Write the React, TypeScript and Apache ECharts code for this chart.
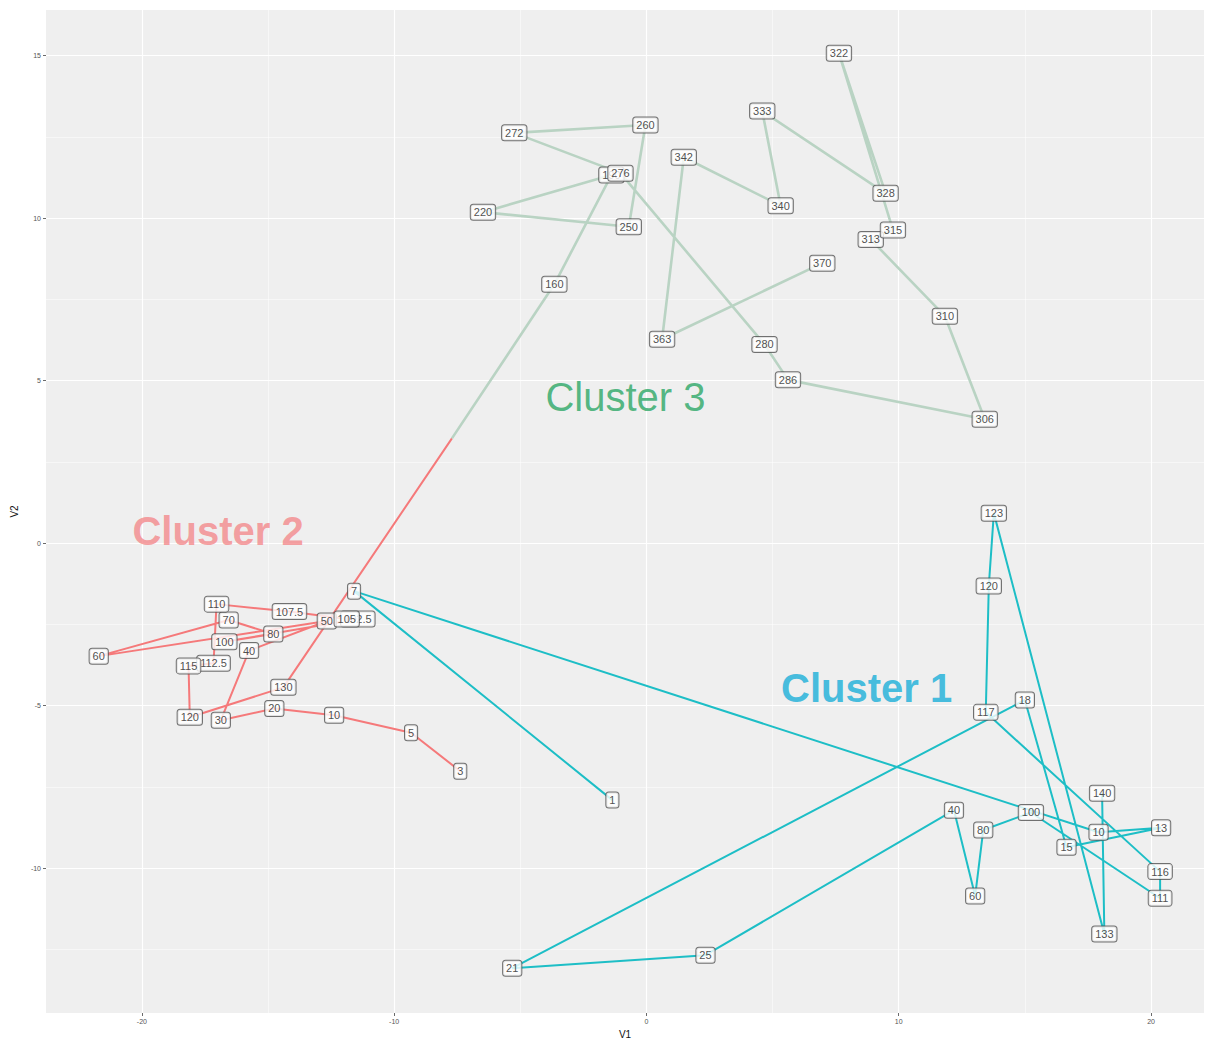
import React, { useEffect, useRef } from 'react';
import * as echarts from 'echarts';

// Axis breaks
const xTicks = [-20, -10, 0, 10, 20];
const xMinorTicks = [-15, -5, 5, 15];
const yTicks = [-10, -5, 0, 5, 10, 15];
const yMinorTicks = [-12.5, -7.5, -2.5, 2.5, 7.5, 12.5];

// Cluster 1 trajectory (labels are time points)
const c1Labels = ['1', '7', '10', '13', '15', '18', '21', '25', '40', '60', '80', '100', '111', '116', '117', '120', '123', '133', '140'];
const c1X = [-1.35, -11.59, 17.92, 20.4, 16.65, 15.0, -5.32, 2.34, 12.19, 13.03, 13.35, 15.24, 20.36, 20.36, 13.45, 13.57, 13.77, 18.15, 18.06];
const c1Y = [-7.91, -1.48, -8.9, -8.76, -9.36, -4.83, -13.08, -12.68, -8.22, -10.86, -8.83, -8.29, -10.93, -10.11, -5.21, -1.32, 0.92, -12.03, -7.7];

// Cluster 2 trajectory
const c2Labels = ['3', '5', '10', '20', '30', '40', '50', '60', '70', '80', '100', '102.5', '105', '107.5', '110', '112.5', '115', '120', '130'];
const c2X = [-7.38, -9.33, -12.38, -14.75, -16.87, -15.75, -12.67, -21.71, -16.56, -14.79, -16.73, -11.44, -11.88, -14.15, -17.04, -17.16, -18.15, -18.1, -14.39];
const c2Y = [-7.02, -5.84, -5.3, -5.09, -5.45, -3.31, -2.4, -3.48, -2.37, -2.8, -3.04, -2.34, -2.34, -2.11, -1.88, -3.7, -3.78, -5.36, -4.44];

// Cluster 3 trajectory (continuation)
const c3Labels = ['160', '190', '220', '250', '260', '272', '276', '280', '286', '306', '310', '313', '315', '322', '328', '333', '340', '342', '363', '370'];
const c3X = [-3.65, -1.39, -6.48, -0.7, -0.04, -5.24, -1.03, 4.68, 5.61, 13.41, 11.83, 8.89, 9.77, 7.63, 9.48, 4.59, 5.32, 1.48, 0.62, 6.97];
const c3Y = [7.96, 11.32, 10.18, 9.73, 12.86, 12.62, 11.38, 6.11, 5.02, 3.81, 6.98, 9.34, 9.63, 15.07, 10.76, 13.29, 10.38, 11.87, 6.27, 8.61];

// Where the path changes colour from cluster 2 to cluster 3
const transitionPoint = [-7.71, 3.22];

// Cluster annotations
const annotLabels = ['Cluster 1', 'Cluster 2', 'Cluster 3'];
const annotX = [8.73, -16.98, -0.83];
const annotY = [-4.46, 0.37, 4.49];
const annotColors = ['#18AED8', '#F4888A', '#2AA765'];
const annotWeights = ['bold', 'bold', 'normal'];

const X_MIN = -23.8;
const X_MAX = 22.1;
const Y_MIN = -14.46;
const Y_MAX = 16.4;

const RED = '#F5797A';
const CYAN = '#1DBEC6';
const GREEN_LINE = '#B9D3C3';
const FONT = 'Liberation Sans, Arial, sans-serif';

const zip = (xs: number[], ys: number[]) => xs.map((x, i) => [x, ys[i]]);

export default function App() {
  const ref = useRef<HTMLDivElement>(null);

  useEffect(() => {
    if (!ref.current) return;
    const chart = echarts.init(ref.current, null, { renderer: 'svg' });

    const labelStyle = {
      show: true,
      position: 'inside',
      formatter: (p: any) => p.name,
      fontSize: 11,
      fontFamily: FONT,
      color: '#222',
      backgroundColor: '#ffffff',
      borderColor: '#505050',
      borderWidth: 1,
      borderRadius: 2.5,
      padding: [2, 3, 1, 3],
      lineHeight: 12,
    };

    const labelSeries = (labels: string[], xs: number[], ys: number[]) => ({
      type: 'scatter',
      symbolSize: 1,
      itemStyle: { color: 'rgba(0,0,0,0)' },
      z: 5,
      data: labels.map((l, i) => ({ name: l, value: [xs[i], ys[i]] })),
      label: labelStyle,
      emphasis: { disabled: true },
      silent: true,
    });

    const axisLabelStyle = { fontSize: 7, color: '#555', fontFamily: FONT };

    const option: any = {
      animation: false,
      backgroundColor: '#ffffff',
      grid: {
        left: 46,
        right: 2,
        top: 10,
        bottom: 26,
        show: true,
        backgroundColor: '#EFEFEF',
        borderWidth: 0,
        containLabel: false,
        outerBoundsMode: 'none',
      },
      xAxis: [
        {
          type: 'value',
          min: X_MIN,
          max: X_MAX,
          name: 'V1',
          nameLocation: 'middle',
          nameGap: 15,
          nameTextStyle: { fontSize: 10, color: '#111', fontFamily: FONT },
          axisLine: { show: false, onZero: false },
          axisTick: { show: true, length: 3, lineStyle: { color: '#444', width: 0.8 }, customValues: xTicks },
          axisLabel: { ...axisLabelStyle, margin: 5, customValues: xTicks },
          splitLine: { show: true, lineStyle: { color: '#ffffff', width: 1.2 } },
        },
        {
          type: 'value',
          min: X_MIN,
          max: X_MAX,
          position: 'top',
          axisLine: { show: false, onZero: false },
          axisTick: { show: false, customValues: xMinorTicks },
          axisLabel: { show: false, customValues: xMinorTicks },
          splitLine: { show: true, lineStyle: { color: '#ffffff', width: 0.5 } },
        },
      ],
      yAxis: [
        {
          type: 'value',
          min: Y_MIN,
          max: Y_MAX,
          name: 'V2',
          nameLocation: 'middle',
          nameGap: 23,
          nameRotate: 90,
          nameTextStyle: { fontSize: 10, color: '#111', fontFamily: FONT },
          axisLine: { show: false, onZero: false },
          axisTick: { show: true, length: 3, lineStyle: { color: '#444', width: 0.8 }, customValues: yTicks },
          axisLabel: { ...axisLabelStyle, margin: 5, customValues: yTicks },
          splitLine: { show: true, lineStyle: { color: '#ffffff', width: 1.2 } },
        },
        {
          type: 'value',
          min: Y_MIN,
          max: Y_MAX,
          position: 'right',
          axisLine: { show: false, onZero: false },
          axisTick: { show: false, customValues: yMinorTicks },
          axisLabel: { show: false, customValues: yMinorTicks },
          splitLine: { show: true, lineStyle: { color: '#ffffff', width: 0.5 } },
        },
      ],
      series: [
        {
          type: 'line',
          data: [...zip(c2X, c2Y), transitionPoint],
          showSymbol: false,
          symbol: 'none',
          lineStyle: { color: RED, width: 2 },
          z: 2,
          silent: true,
        },
        {
          type: 'line',
          data: [transitionPoint, ...zip(c3X, c3Y)],
          showSymbol: false,
          symbol: 'none',
          lineStyle: { color: GREEN_LINE, width: 2.6 },
          z: 2,
          silent: true,
        },
        {
          type: 'line',
          data: zip(c1X, c1Y),
          showSymbol: false,
          symbol: 'none',
          lineStyle: { color: CYAN, width: 2 },
          z: 2,
          silent: true,
        },
        labelSeries(c1Labels, c1X, c1Y),
        labelSeries(c2Labels, c2X, c2Y),
        labelSeries(c3Labels, c3X, c3Y),
        {
          type: 'scatter',
          symbolSize: 1,
          itemStyle: { color: 'rgba(0,0,0,0)' },
          z: 6,
          silent: true,
          data: annotLabels.map((l, i) => ({
            name: l,
            value: [annotX[i], annotY[i]],
            label: { color: annotColors[i], fontWeight: annotWeights[i] },
          })),
          label: {
            show: true,
            position: 'inside',
            formatter: (p: any) => p.name,
            fontSize: 40,
            fontFamily: FONT,
          },
        },
      ],
    };

    chart.setOption(option);
    return () => chart.dispose();
  }, []);

  return (
    <div
      ref={ref}
      style={{ position: 'fixed', left: 0, top: 0, width: 1206, height: 1039, background: '#fff' }}
    />
  );
}
